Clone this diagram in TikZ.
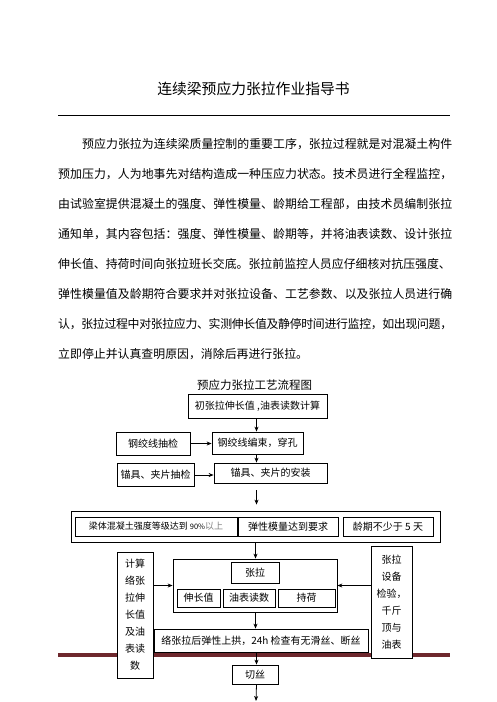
\documentclass[tikz,border=0pt]{standalone}
\usepackage{fontspec}
\setmainfont{Noto Sans CJK SC}
\usetikzlibrary{arrows.meta}
\definecolor{maroon}{RGB}{110,40,45}
\newcommand\jline[2]{\makebox[#1][s]{\jlfirst#2\relax}}
\def\jlfirst#1{#1\jlrest}
\def\jlrest#1{\ifx\relax#1\else\hskip 0pt plus 1fil minus 0.6pt #1\expandafter\jlrest\fi}
\begin{document}
\begin{tikzpicture}[x=1pt,y=-1pt,
  box/.style={draw, line width=0.8pt, fill=white, inner sep=0pt, font=\fontsize{10}{12}\selectfont, align=center},
  tall/.style={box, font=\fontsize{10}{17}\selectfont},
  arr/.style={-{Stealth[length=5pt,width=4pt]}, line width=0.8pt},
  para/.style={anchor=west, inner sep=0pt, font=\fontsize{11.9}{14}\selectfont}]
\useasboundingbox (0,0) rectangle (496,702);
\fill[white] (0,0) rectangle (496,702);

% title and rule
\node[inner sep=0pt, font=\fontsize{14.8}{16}\selectfont] (title) at (253.5,89) {连续梁预应力张拉作业指导书};
\coordinate (rl) at (58,115); \coordinate (rr) at (450,115);
\draw[line width=0.9pt] (rl) -- (rr);

% paragraph
\node[para] (p1) at (82,144) {\jline{370pt}{预应力张拉为连续梁质量控制的重要工序，张拉过程就是对混凝土构件}};
\node[para] (p2) at (58,174) {\jline{394pt}{预加压力，人为地事先对结构造成一种压应力状态。技术员进行全程监控，}};
\node[para] (p3) at (58,204) {\jline{394pt}{由试验室提供混凝土的强度、弹性模量、龄期给工程部，由技术员编制张拉}};
\node[para] (p4) at (58,234) {\jline{394pt}{通知单，其内容包括：强度、弹性模量、龄期等，并将油表读数、设计张拉}};
\node[para] (p5) at (58,264) {伸长值、持荷时间向张拉班长交底。张拉前监控人员应仔细核对抗压强度、};
\node[para] (p6) at (58,294) {\jline{394pt}{弹性模量值及龄期符合要求并对张拉设备、工艺参数、以及张拉人员进行确}};
\node[para] (p7) at (58,324) {\jline{394pt}{认，张拉过程中对张拉应力、实测伸长值及静停时间进行监控，如出现问题，}};
\node[para] (p8) at (58,354) {立即停止并认真查明原因，消除后再进行张拉。};

% flow chart title
\node[inner sep=0pt, font=\fontsize{11.5}{13}\selectfont] (ftitle) at (254.5,385) {预应力张拉工艺流程图};

\coordinate (col) at (256.5,0);
\coordinate (col2) at (255.5,0);

% maroon band (behind boxes)
\coordinate (ml) at (58,655); \coordinate (mr) at (450,655);
\draw[maroon, line width=4pt] (ml) -- (mr);

\node[box, minimum width=139pt, minimum height=24pt] (n1) at (257.5,406) {初张拉伸长值 ,油表读数计算};
\node[box, minimum width=91pt, minimum height=22pt] (n2) at (257.5,443) {钢绞线编束，穿孔};
\node[box, minimum width=74pt, minimum height=23pt] (c1) at (153,443.5) {钢绞线抽检};
\node[box, minimum width=113pt, minimum height=20pt] (n3) at (270.5,473) {锚具、夹片的安装};
\node[box, minimum width=77pt, minimum height=23pt] (c2) at (155.5,475) {锚具、夹片抽检};

\node[box, minimum width=369pt, minimum height=31pt] (big) at (255.5,526.5) {};
\node[box, minimum width=162pt, minimum height=19pt, font=\fontsize{9}{11}\selectfont] (ba) at (156,526.5) {梁体混凝土强度等级达到 {\fontsize{7.5}{9}\selectfont 90\%}{\color{gray}以上}};
\node[box, minimum width=100pt, minimum height=19pt] (bb) at (288,526.5) {弹性模量达到要求};
\node[box, minimum width=90pt, minimum height=19pt] (bc) at (388,526.5) {龄期不少于 5 天};

\node[box, minimum width=164pt, minimum height=53pt] (ten) at (255,585.5) {};
\node[box, minimum width=48pt, minimum height=21pt] (tz) at (255,572.5) {张拉};
\node[box, minimum width=43pt, minimum height=18pt] (ts) at (198.5,598) {伸长值};
\node[box, minimum width=52pt, minimum height=18pt] (ty) at (249,598) {油表读数};
\node[box, minimum width=57pt, minimum height=18pt] (tc) at (306.5,598) {持荷};

\node[tall, minimum width=36pt, minimum height=126pt] (lb) at (135,615) {计算\\络张\\拉伸\\长值\\及油\\表读\\数};
\node[tall, minimum width=41pt, minimum height=112pt] (rb) at (391.5,602) {张拉\\设备\\检验，\\千斤\\顶与\\油表};

\node[box, minimum width=214pt, minimum height=23pt] (af) at (261,640.5) {络张拉后弹性上拱，24h 检查有无滑丝、断丝};
\node[box, minimum width=46pt, minimum height=19pt] (qs) at (255,674.5) {切丝};
\coordinate (end) at (256,701);

% connectors
\draw[arr] (n1.south -| col) -- (n2.north -| col);
\draw[arr] (c1.east) -- (c1.east -| n2.west);
\draw[arr] (n2.south -| col) -- (n3.north -| col);
\draw[arr] (c2.east) -- (c2.east -| n3.west);
\draw[arr, shorten <=7pt, shorten >=6pt] (n3.south -| col) -- (big.north -| col);
\draw[arr] (big.south -| col2) -- (ten.north -| col2);
\draw[arr] (ten.west -| lb.east) -- (ten.west);
\draw[arr] (ten.east -| rb.west) -- (ten.east);
\draw[arr] (ten.south -| col2) -- (af.north -| col2);
\draw[arr] (af.south -| col) -- (qs.north -| col);
\draw[arr] (qs.south -| col) -- (end);
\end{tikzpicture}
\end{document}
